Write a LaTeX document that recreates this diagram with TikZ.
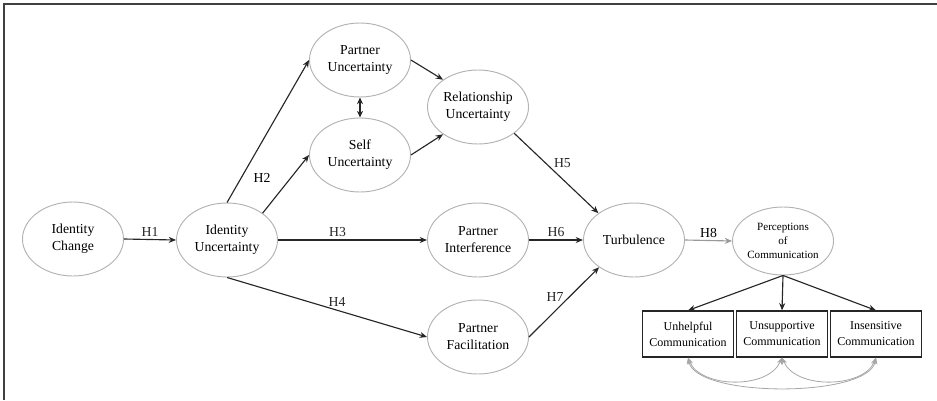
\documentclass[tikz,border=0pt]{standalone}
\usepackage{fontspec}
\setmainfont{Liberation Serif}
\usetikzlibrary{shapes.geometric,arrows.meta}

\tikzset{
  var/.style={ellipse, draw=gray!60, line width=0.7pt, minimum width=75.75pt, minimum height=55.5pt,
    inner sep=0pt, align=center, font=\fontsize{10.3}{12.75}\selectfont},
  obs/.style={rectangle, draw=black!85, line width=0.9pt, minimum width=68.25pt, minimum height=34.5pt,
    inner sep=0pt, align=center, font=\fontsize{9}{12}\selectfont},
  hyp/.style={-{Stealth[length=5.5pt,width=4.5pt]}, line width=0.85pt, black!85},
  cov/.style={{Stealth[length=5pt,width=4pt]}-{Stealth[length=5pt,width=4pt]}, line width=0.6pt, gray!70},
  lab/.style={font=\fontsize{10.3}{12}\selectfont, inner sep=2pt}
}

\begin{document}
\begin{tikzpicture}[x=0.75pt,y=-0.75pt]
  \useasboundingbox (0,0) rectangle (937,400);
  \draw[black!75, line width=1pt] (4,400) -- (4,4) -- (937,4);

  % latent variables
  \node[var] (ic) at (73,239) {Identity\\Change};
  \node[var] (iu) at (227,240) {Identity\\Uncertainty};
  \node[var] (pu) at (360,60) {Partner\\Uncertainty};
  \node[var] (su) at (360,155) {Self\\Uncertainty};
  \node[var] (ru) at (478,107) {Relationship\\Uncertainty};
  \node[var] (pi) at (478,240) {Partner\\Interference};
  \node[var] (pf) at (478,337) {Partner\\Facilitation};
  \node[var] (tb) at (634,240) {Turbulence};
  \node[var, minimum height=51pt, font=\fontsize{8.3}{10.5}\selectfont] (pc) at (783,241) {Perceptions\\of\\Communication};

  % indicators
  \node[obs] (un) at (688,334) {Unhelpful\\Communication};
  \node[obs] (us) at (782,334) {Unsupportive\\Communication};
  \node[obs] (in) at (876,334) {Insensitive\\Communication};

  % paths
  \draw[hyp] (ic.east) -- node[lab, above] {H1} (iu.west);
  \draw[hyp] (iu.north) -- (pu.west);
  \draw[hyp] (iu.37) -- (su.west);
  \node[lab] (h2) at (262,178) {H2};
  \draw[hyp, {Stealth[length=5pt,width=4.5pt]}-{Stealth[length=5pt,width=4.5pt]}] (pu.south) -- (su.north);
  \draw[hyp] (pu.east) -- (ru.142);
  \draw[hyp] (su.east) -- (ru.218);
  \draw[hyp] (iu.east) -- node[lab, above, pos=0.4] {H3} (pi.west);
  \draw[hyp] (iu.south) -- node[lab, above, pos=0.55] {H4} (pf.west);
  \draw[hyp] (ru.-36) -- node[lab, above right, pos=0.45, inner sep=1pt] {H5} (tb.143);
  \draw[hyp] (pi.east) -- node[lab, above] {H6} (tb.west);
  \draw[hyp] (pf.east) -- node[lab, above left, pos=0.5, inner sep=0pt] {H7} (tb.218);
  \draw[hyp, gray!80] (tb.east) -- node[lab, above, black] {H8} (pc.west);

  \draw[hyp] (pc.south) -- (un.north);
  \draw[hyp] (pc.south) -- (us.north);
  \draw[hyp] (pc.south) -- (in.north);

  % correlated errors
  \draw[cov] (un.south) .. controls (696,398) and (868,398) .. (in.south);
  \draw[cov] (un.south) .. controls (700,388) and (768,390) .. (us.south);
  \draw[cov] (us.south) .. controls (796,390) and (864,388) .. (in.south);
\end{tikzpicture}
\end{document}
